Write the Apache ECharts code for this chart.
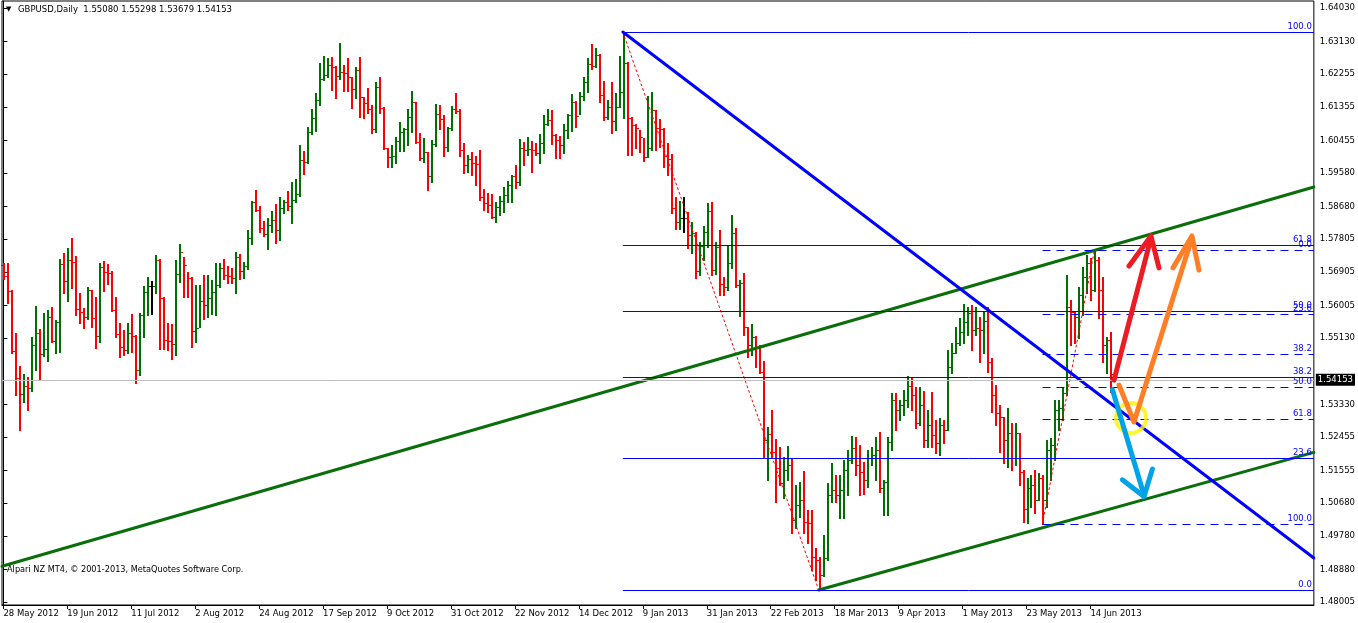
<!DOCTYPE html>
<html><head><meta charset="utf-8">
<script src="https://cdn.jsdelivr.net/npm/echarts@6/dist/echarts.min.js"></script>
<style>html,body{margin:0;padding:0;background:#fff}#c{width:1358px;height:623px}</style>
</head><body><div id="c"></div>
<script>
// ---- data (daily bars, index 0 = 28 May 2012) ----
const dateLabels = ['28 May 2012','19 Jun 2012','11 Jul 2012','2 Aug 2012','24 Aug 2012','17 Sep 2012','9 Oct 2012','31 Oct 2012','22 Nov 2012','14 Dec 2012','9 Jan 2013','31 Jan 2013','22 Feb 2013','18 Mar 2013','9 Apr 2013','1 May 2013','23 May 2013','14 Jun 2013'];
const dateLabelBars = [0,16,32,48,64,80,96,112,128,144,160,176,192,208,224,240,256,272];
const priceTicks = [1.64030,1.63130,1.62255,1.61355,1.60455,1.59580,1.58680,1.57805,1.56905,1.56005,1.55130,1.53330,1.52455,1.51555,1.50680,1.49780,1.48880,1.48005];

const firstOpen = 1.5710;
const highs = [
1.5715,1.5715,1.5642,1.5526,1.5437,1.5415,1.5407,1.5515,1.5599,1.5537,
1.5580,1.5588,1.5596,1.5561,1.5726,1.5742,1.5755,1.5782,1.5734,1.5634,
1.5593,1.5650,1.5642,1.5623,1.5715,1.5720,1.5712,1.5693,1.5623,1.5553,
1.5534,1.5553,1.5577,1.5520,1.5580,1.5653,1.5677,1.5666,1.5737,1.5726,
1.5623,1.5553,1.5550,1.5723,1.5766,1.5731,1.5691,1.5677,1.5656,1.5656,
1.5683,1.5683,1.5669,1.5715,1.5715,1.5726,1.5707,1.5701,1.5745,1.5739,
1.5718,1.5804,1.5882,1.5912,1.5869,1.5828,1.5836,1.5855,1.5874,1.5893,
1.5885,1.5909,1.5934,1.5942,1.6034,1.6017,1.6082,1.6131,1.6174,1.6255,
1.6274,1.6268,1.6271,1.6247,1.6309,1.6250,1.6268,1.6217,1.6244,1.6271,
1.6163,1.6187,1.6142,1.6204,1.6217,1.6136,1.6025,1.6034,1.6055,1.6096,
1.6079,1.6131,1.6179,1.6150,1.6066,1.6052,1.6015,1.6047,1.6144,1.6142,
1.6115,1.6082,1.6139,1.6174,1.6131,1.6039,1.6007,1.6015,1.6004,1.6020,
1.5915,1.5904,1.5901,1.5880,1.5896,1.5920,1.5936,1.5953,1.5980,1.6050,
1.6042,1.6055,1.6044,1.6039,1.6063,1.6115,1.6131,1.6128,1.6062,1.6058,
1.6090,1.6117,1.6171,1.6152,1.6177,1.6217,1.6268,1.6306,1.6295,1.6279,
1.6206,1.6155,1.6204,1.6174,1.6274,1.6339,1.6258,1.6109,1.6090,1.6074,
1.6052,1.6166,1.6177,1.6128,1.6104,1.6079,1.6039,1.6009,1.5893,1.5882,
1.5893,1.5853,1.5826,1.5800,1.5772,1.5815,1.5877,1.5880,1.5772,1.5804,
1.5677,1.5764,1.5845,1.5809,1.5669,1.5688,1.5542,1.5550,1.5518,1.5493,
1.5450,1.5272,1.5318,1.5240,1.5218,1.5191,1.5221,1.5188,1.5116,1.5124,
1.5153,1.5048,1.5048,1.4945,1.4921,1.4981,1.5121,1.5175,1.5143,1.5143,
1.5183,1.5210,1.5248,1.5245,1.5224,1.5178,1.5210,1.5218,1.5245,1.5259,
1.5129,1.5245,1.5364,1.5364,1.5345,1.5372,1.5410,1.5407,1.5380,1.5380,
1.5369,1.5318,1.5367,1.5291,1.5296,1.5291,1.5480,1.5499,1.5542,1.5566,
1.5604,1.5596,1.5602,1.5596,1.5569,1.5583,1.5596,1.5458,1.5386,1.5332,
1.5300,1.5323,1.5283,1.5283,1.5256,1.5156,1.5134,1.5143,1.5156,1.5148,
1.5143,1.5237,1.5242,1.5345,1.5345,1.5380,1.5683,1.5615,1.5583,1.5650,
1.5704,1.5737,1.5728,1.5750,1.5731,1.5677,1.5515,1.55298];
const lows = [
1.5672,1.5607,1.5472,1.5358,1.5264,1.5340,1.5318,1.5369,1.5426,1.5402,
1.5465,1.5450,1.5502,1.5472,1.5475,1.5634,1.5612,1.5647,1.5575,1.5553,
1.5539,1.5564,1.5542,1.5485,1.5502,1.5639,1.5658,1.5585,1.5515,1.5461,
1.5467,1.5472,1.5475,1.5391,1.5413,1.5515,1.5575,1.5577,1.5634,1.5483,
1.5483,1.5480,1.5456,1.5467,1.5664,1.5623,1.5623,1.5488,1.5502,1.5542,
1.5564,1.5569,1.5577,1.5575,1.5650,1.5672,1.5661,1.5661,1.5634,1.5672,
1.5674,1.5699,1.5766,1.5855,1.5799,1.5788,1.5753,1.5799,1.5769,1.5777,
1.5850,1.5858,1.5823,1.5880,1.5895,1.5955,1.5985,1.6063,1.6071,1.6142,
1.6209,1.6217,1.6182,1.6160,1.6212,1.6179,1.6179,1.6133,1.6160,1.6109,
1.6106,1.6120,1.6066,1.6069,1.6120,1.6023,1.5974,1.5974,1.5985,1.6017,
1.6017,1.6034,1.6069,1.6039,1.5993,1.5988,1.5912,1.5934,1.6030,1.6077,
1.6004,1.6017,1.6074,1.6120,1.6004,1.5958,1.5961,1.5953,1.5926,1.5885,
1.5858,1.5853,1.5836,1.5826,1.5845,1.5853,1.5880,1.5880,1.5917,1.5926,
1.5980,1.6007,1.5961,1.6007,1.5985,1.6012,1.6088,1.6036,1.5998,1.5998,
1.6012,1.6052,1.6071,1.6082,1.6117,1.6155,1.6177,1.6239,1.6244,1.6150,
1.6101,1.6105,1.6066,1.6074,1.6136,1.6106,1.6007,1.6007,1.6025,1.6015,
1.5990,1.6001,1.6020,1.6020,1.6028,1.5974,1.5953,1.5850,1.5807,1.5807,
1.5799,1.5755,1.5742,1.5674,1.5683,1.5723,1.5758,1.5683,1.5685,1.5629,
1.5629,1.5642,1.5701,1.5650,1.5572,1.5521,1.5461,1.5467,1.5434,1.5418,
1.5188,1.5129,1.5191,1.5070,1.5116,1.5080,1.5129,1.4986,1.4999,1.5029,
1.4986,1.4959,1.4886,1.4859,1.4833,1.4870,1.4913,1.5070,1.5070,1.5026,
1.5026,1.5089,1.5175,1.5143,1.5089,1.5091,1.5110,1.5170,1.5129,1.5097,
1.5035,1.5035,1.5210,1.5264,1.5291,1.5305,1.5326,1.5318,1.5269,1.5278,
1.5218,1.5218,1.5218,1.5202,1.5197,1.5229,1.5264,1.5418,1.5472,1.5495,
1.5499,1.5521,1.5480,1.5521,1.5448,1.5472,1.5421,1.5313,1.5278,1.5205,
1.5175,1.5164,1.5156,1.5170,1.5116,1.5016,1.5013,1.5056,1.5040,1.5075,
1.5011,1.5056,1.5129,1.5183,1.5264,1.5291,1.5360,1.5493,1.5499,1.5512,
1.5575,1.5634,1.5615,1.5640,1.5566,1.5448,1.5418,1.53679];
const closes = [
1.5680,1.5639,1.5477,1.5404,1.5361,1.5383,1.5377,1.5493,1.5526,1.5469,
1.5483,1.5569,1.5504,1.5556,1.5712,1.5666,1.5723,1.5718,1.5591,1.5583,
1.5569,1.5642,1.5566,1.5518,1.5704,1.5691,1.5688,1.5588,1.5523,1.5488,
1.5480,1.5526,1.5518,1.5426,1.5575,1.5637,1.5653,1.5653,1.5723,1.5620,
1.5507,1.5504,1.5496,1.5685,1.5745,1.5710,1.5674,1.5531,1.5540,1.5612,
1.5602,1.5620,1.5637,1.5656,1.5701,1.5683,1.5680,1.5674,1.5731,1.5693,
1.5707,1.5782,1.5880,1.5858,1.5809,1.5793,1.5818,1.5831,1.5804,1.5863,
1.5880,1.5869,1.5885,1.5901,1.5993,1.5988,1.6069,1.6106,1.6155,1.6212,
1.6223,1.6250,1.6244,1.6220,1.6231,1.6228,1.6217,1.6185,1.6236,1.6163,
1.6147,1.6131,1.6077,1.6190,1.6133,1.6025,1.6001,1.6004,1.6044,1.6069,
1.6077,1.6109,1.6150,1.6042,1.5998,1.6015,1.5950,1.6036,1.6117,1.6104,
1.6028,1.6079,1.6131,1.6125,1.6020,1.5980,1.5996,1.5985,1.5982,1.5893,
1.5877,1.5872,1.5839,1.5866,1.5882,1.5899,1.5926,1.5950,1.5934,1.6025,
1.6020,1.6023,1.6020,1.6012,1.6039,1.6090,1.6101,1.6060,1.6047,1.6034,
1.6074,1.6115,1.6150,1.6112,1.6166,1.6204,1.6252,1.6247,1.6277,1.6169,
1.6109,1.6136,1.6098,1.6136,1.6177,1.6255,1.6106,1.6088,1.6079,1.6055,
1.6001,1.6025,1.6128,1.6079,1.6077,1.6004,1.5996,1.5863,1.5826,1.5836,
1.5836,1.5791,1.5796,1.5693,1.5761,1.5799,1.5855,1.5696,1.5758,1.5658,
1.5650,1.5715,1.5796,1.5656,1.5661,1.5542,1.5493,1.5515,1.5488,1.5421,
1.5237,1.5253,1.5205,1.5161,1.5121,1.5156,1.5170,1.5021,1.5062,1.5075,
1.5016,1.5013,1.4921,1.4913,1.4873,1.4918,1.5089,1.5102,1.5089,1.5102,
1.5156,1.5183,1.5215,1.5170,1.5151,1.5129,1.5188,1.5197,1.5210,1.5107,
1.5124,1.5232,1.5345,1.5318,1.5332,1.5345,1.5383,1.5358,1.5283,1.5332,
1.5237,1.5278,1.5251,1.5229,1.5278,1.5264,1.5434,1.5472,1.5499,1.5529,
1.5556,1.5580,1.5534,1.5539,1.5534,1.5558,1.5448,1.5358,1.5310,1.5299,
1.5237,1.5256,1.5188,1.5256,1.5151,1.5051,1.5107,1.5116,1.5075,1.5134,
1.5075,1.5210,1.5224,1.5318,1.5323,1.5364,1.5596,1.5583,1.5569,1.5629,
1.5677,1.5715,1.5642,1.5723,1.5642,1.5493,1.5508,1.54153];
// FX daily bars open at the prior bar's close (last bar open 1.55080 as in the header)
const opens = [firstOpen].concat(closes.slice(0, closes.length - 1));

// Fibonacci objects and trend lines (bar index, price)
const fibLevels = [0, 23.6, 38.2, 50, 61.8, 100];
const fibA = {hiBar: 155, hi: 1.63385, loBar: 204, lo: 1.48328};
const fibB = {hiBar: 273, hi: 1.57503, loBar: 260, lo: 1.50109};
const rightEdge = 327.9, leftEdge = -0.35;
const trendUpper = [[leftEdge, 1.48967], [rightEdge, 1.59202]];
const trendLower = [[204, 1.48328], [rightEdge, 1.52041]];
const trendDown = [[155, 1.63385], [rightEdge, 1.49191]];
const lastPrice = 1.54153;
// hand-drawn annotations
const redArrow = [[277.9, 1.5399], [287.15, 1.5783]];
const redHead = [[281.65, 1.5707], [287.15, 1.5788], [289.15, 1.5702]];
const orangeArrow = [[279.15, 1.5386], [282.9, 1.5286], [297.4, 1.5783]];
const orangeHead = [[292.65, 1.5702], [297.4, 1.5788], [299.15, 1.5696]];
const cyanArrow = [[277.5, 1.5373], [285.4, 1.5089]];
const cyanHead = [[279.98, 1.5130], [285.4, 1.5085], [287.5, 1.5159]];
const yellowRing = [[282.15, 1.5297]];

const FONT = 'DejaVu Sans';
const UP = '#007000', DOWN = '#ff0000', DOJI = '#000000';
const FIBC = '#0000ff';

const ohlc = closes.map((c, i) => [i, opens[i], highs[i], lows[i], c]);

function fibLines(f, dashed) {
  const out = [];
  fibLevels.forEach(r => {
    let p;
    if (f === fibA) p = f.lo + (f.hi - f.lo) * r / 100;   // 100 at top
    else p = f.hi - (f.hi - f.lo) * r / 100;               // 100 at bottom
    const start = Math.min(f.hiBar, f.loBar);
    out.push([
      {coord: [start, p], lineStyle: {color: FIBC, width: 1, type: dashed ? [8, 6] : 'solid'},
       label: {show: true, position: 'insideEndTop', formatter: r.toFixed(1), color: FIBC,
               fontFamily: FONT, fontSize: 8.5, distance: [2, 1]}},
      {coord: [rightEdge, p]}
    ]);
  });
  return out;
}

const chart = echarts.init(document.getElementById('c'));
const lineS = (data, color, width, z, type) => ({
  type: 'line', data: data, symbol: 'none', silent: true, z: z || 3, animation: false,
  lineStyle: {color: color, width: width, type: type || 'solid', cap: 'round', join: 'round'}
});

chart.setOption({
  animation: false,
  backgroundColor: '#ffffff',
  grid: {left: 2, right: 43, top: 1, bottom: 18, show: true, borderColor: '#000', borderWidth: 1},
  xAxis: {
    type: 'value', min: leftEdge, max: rightEdge,
    axisLine: {show: true, lineStyle: {color: '#000'}},
    axisTick: {show: true, customValues: dateLabelBars, length: 4, lineStyle: {color: '#000'}},
    axisLabel: {customValues: dateLabelBars, align: 'left', margin: 4, padding: [0, 0, 0, 0],
      fontFamily: FONT, fontSize: 8.5, color: '#000',
      formatter: v => { const k = dateLabelBars.indexOf(Math.round(v)); return k >= 0 ? dateLabels[k] : ''; }},
    splitLine: {show: false}
  },
  yAxis: {
    type: 'value', position: 'right', min: 1.47923, max: 1.64221, scale: true,
    axisLine: {show: true, lineStyle: {color: '#000'}},
    axisTick: {show: true, customValues: priceTicks, length: 4, lineStyle: {color: '#000'}},
    axisLabel: {customValues: priceTicks, margin: 6, fontFamily: FONT, fontSize: 8.5, color: '#000',
      formatter: v => v.toFixed(5)},
    splitLine: {show: false}
  },
  graphic: [
    {type: 'text', left: 6, top: 6, z: 100, style: {text: '\u25BC', fontFamily: FONT, fontSize: 7, fill: '#000'}},
    {type: 'text', left: 18, top: 5, z: 100, style: {
      text: 'GBPUSD,Daily  ' + [opens[opens.length-1], highs[highs.length-1], lows[lows.length-1], closes[closes.length-1]].map(v => v.toFixed(5)).join(' '),
      fontFamily: FONT, fontSize: 8.5, fill: '#000'}},
    {type: 'text', left: 7, top: 566, z: 100, style: {
      text: 'Alpari NZ MT4, \u00A9 2001-2013, MetaQuotes Software Corp.',
      fontFamily: FONT, fontSize: 8.2, fill: '#000'}}
  ],
  series: [
    {type: 'line', data: [], symbol: 'none', z: 1, silent: true,
     markLine: {silent: true, symbol: 'none', animation: false,
       data: [{yAxis: lastPrice, lineStyle: {color: '#c0c0c0', width: 1, type: 'solid'},
         label: {show: true, position: 'end', distance: 2, formatter: lastPrice.toFixed(5),
           backgroundColor: '#000', color: '#fff', padding: [2, 2, 1, 2], fontFamily: FONT, fontSize: 8.5}}]}},
    {type: 'custom', data: ohlc, z: 2, silent: true, encode: {x: 0, y: [1, 2, 3, 4]},
     renderItem: function (params, api) {
       const k = params.dataIndex;
       const o = opens[k], h = highs[k], l = lows[k], c = closes[k];
       const ph = api.coord([k, h]), pl = api.coord([k, l]), po = api.coord([k, o]), pc = api.coord([k, c]);
       const x = Math.round(ph[0]);
       const col = c > o ? UP : (c < o ? DOWN : DOJI);
       const yh = Math.round(ph[1]), yl = Math.round(pl[1]);
       const yo = Math.round(po[1]), yc = Math.round(pc[1]);
       return {type: 'group', children: [
         {type: 'rect', shape: {x: x, y: yh, width: 2, height: Math.max(1, yl - yh + 1)}, style: {fill: col}},
         {type: 'rect', shape: {x: x - 2, y: yo, width: 2, height: 1}, style: {fill: col}},
         {type: 'rect', shape: {x: x + 2, y: yc, width: 2, height: 1}, style: {fill: col}}
       ]};
     }},
    {type: 'line', data: [], symbol: 'none', z: 3, silent: true,
     markLine: {silent: true, symbol: 'none', animation: false, data: fibLines(fibA, false).concat(fibLines(fibB, true))}},
    lineS([[fibA.hiBar, fibA.hi], [fibA.loBar, fibA.lo]], '#ff0000', 1, 3, [2, 3]),
    lineS([[fibB.loBar, fibB.lo], [fibB.hiBar, fibB.hi]], '#ff0000', 1, 3, [2, 3]),
    lineS(trendUpper, '#0a6e0a', 3, 4),
    lineS(trendLower, '#0a6e0a', 3, 4),
    lineS(trendDown, '#0000ff', 3, 4),
    {type: 'scatter', data: yellowRing, symbol: 'circle', symbolSize: 30, z: 10, silent: true,
     itemStyle: {color: 'rgba(0,0,0,0)', borderColor: '#fff200', borderWidth: 4}},
    lineS(cyanArrow, '#00a2e8', 5, 11), lineS(cyanHead, '#00a2e8', 5, 11),
    lineS(redArrow, '#ed1c24', 5, 12), lineS(redHead, '#ed1c24', 5, 12),
    lineS(orangeArrow, '#ff7f27', 5, 13), lineS(orangeHead, '#ff7f27', 5, 13)
  ]
});
</script>
</body></html>
